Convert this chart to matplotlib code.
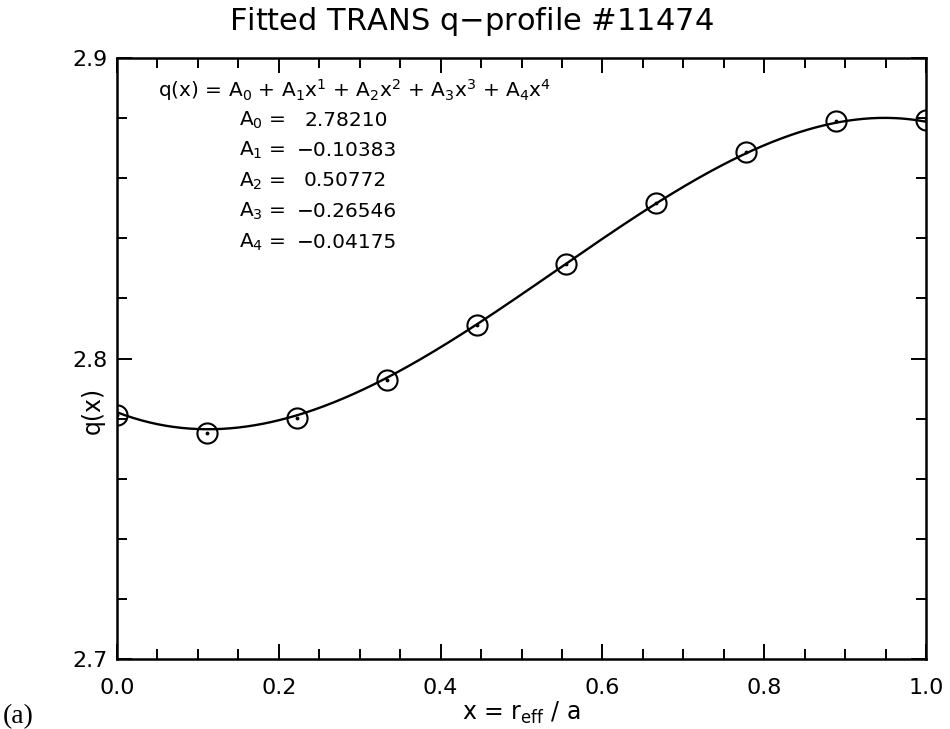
import matplotlib.pyplot as plt
import numpy as np

# TRANS q-profile, shot 11474
shot = 11474
x_pts = np.array([0.0, 1/9, 2/9, 3/9, 4/9, 5/9, 6/9, 7/9, 8/9, 1.0])
q_pts = np.array([2.7812, 2.7752, 2.7803, 2.7928, 2.8110, 2.8314, 2.8516, 2.8686, 2.8792, 2.8794])
coeffs = [2.78210, -0.10383, 0.50772, -0.26546, -0.04175]

plt.rcParams['mathtext.fontset'] = 'dejavusans'

fig = plt.figure(figsize=(9.5, 7.29), dpi=100)
ax = fig.add_axes([117/950, 1-659/729, 809/950, 601/729])

# polynomial fit
xf = np.linspace(0, 1, 400)
qf = sum(c * xf**k for k, c in enumerate(coeffs))
ax.plot(xf, qf, color='black', lw=1.7)

# data points: open circle with a dot in the middle
ax.plot(x_pts, q_pts, 'o', ms=14.5, mfc='none', mec='black', mew=1.5)
ax.plot(x_pts, q_pts, '.', ms=3.5, color='black')

ax.set_xlim(0, 1)
ax.set_ylim(2.7, 2.9)
ax.set_xticks([0.0, 0.2, 0.4, 0.6, 0.8, 1.0])
ax.set_xticks(np.arange(0, 1.001, 0.05), minor=True)
ax.set_yticks([2.7, 2.8, 2.9])
ax.set_yticks(np.arange(2.7, 2.9001, 0.02), minor=True)
ax.xaxis.set_major_formatter(plt.FormatStrFormatter('%.1f'))
ax.yaxis.set_major_formatter(plt.FormatStrFormatter('%.1f'))
ax.tick_params(which='both', direction='in', top=True, right=True, width=1.4, labelsize=16)
ax.tick_params(which='major', length=11)
ax.tick_params(which='minor', length=7)
ax.tick_params(axis='x', pad=14)
ax.tick_params(axis='y', pad=7)
for s in ax.spines.values():
    s.set_linewidth(1.8)

fig.text(521/950, 1-713/729, r'x = r$_\mathrm{eff}$ / a', fontsize=17, ha='center', va='center')
fig.text(93/950, 1-410/729, 'q(x)', fontsize=17, rotation=90, ha='center', va='center')

fig.text(471/950, 1-22/729, 'Fitted TRANS q$-$profile #%d' % shot, ha='center', va='center', fontsize=22)

# fit formula and coefficients
def px(x, y):
    return ((x - 117) / 809, (659 - y) / 601)

formula = r'q(x) = A$_0$ + A$_1$x$^1$ + A$_2$x$^2$ + A$_3$x$^3$ + A$_4$x$^4$'
ax.text(*px(158, 90), formula, transform=ax.transAxes, ha='left', va='center', fontsize=14.5)
for i, c in enumerate(coeffs):
    y = 120 + i * 30.5
    ax.text(*px(239, y), 'A$_%d$ =' % i, transform=ax.transAxes, ha='left', va='center', fontsize=14.5)
    xv = 297 if c < 0 else 304
    ax.text(*px(xv, y), ('%.5f' % c).replace('-', '\u2212'), transform=ax.transAxes,
            ha='left', va='center', fontsize=14.5)

fig.text(0.003, 0.0, '(a)', family='Liberation Serif', fontsize=20, ha='left', va='bottom')

fig.savefig('out.png', dpi=100)
